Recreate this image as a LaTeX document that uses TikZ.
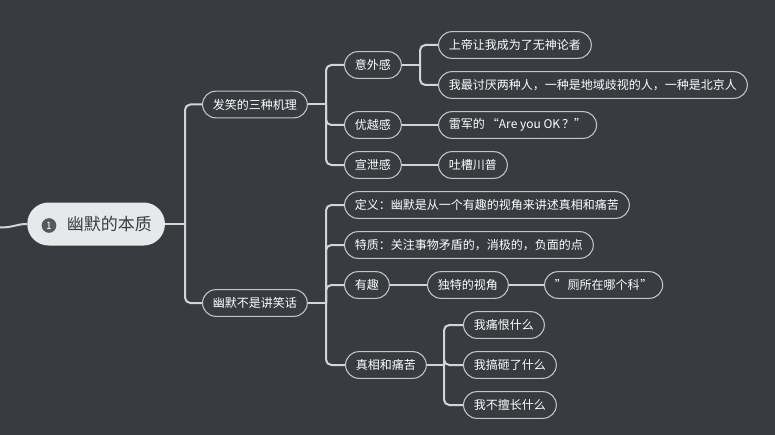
\documentclass[tikz,border=0pt]{standalone}
\usepackage{fontspec}
\setmainfont{Noto Sans CJK SC}
\definecolor{bgcol}{HTML}{383B40}
\definecolor{linecol}{HTML}{D4D5D6}
\definecolor{bordercol}{HTML}{C4C5C7}
\definecolor{rootfill}{HTML}{E7E8EA}
\definecolor{roottext}{HTML}{3A3D43}
\definecolor{iconfill}{HTML}{55585E}
\tikzset{
  topic/.style={draw=bordercol, line width=0.8pt, rounded corners=10pt,
    minimum height=20pt, inner xsep=7.8pt, inner ysep=0pt, text=white,
    font=\fontsize{9}{10}\selectfont, anchor=west},
  rootnode/.style={fill=rootfill, rounded corners=16pt, minimum height=32.25pt,
    inner xsep=9.75pt, inner ysep=0pt, text=roottext, anchor=west,
    font=\fontsize{12.75}{14}\selectfont},
  iconnode/.style={circle, fill=iconfill, minimum size=11pt, inner sep=0pt,
    text=white, font=\fontsize{7.5}{8}\selectfont},
  conn/.style={draw=linecol, line width=1.5pt, rounded corners=4pt},
}
\begin{document}
\begin{tikzpicture}[x=0.75pt,y=-0.75pt]
\fill[bgcol] (0,0) rectangle (775,435);
\useasboundingbox (0,0) rectangle (775,435);

% root
\node[rootnode] (root) at (27,224) {\hspace*{20pt}幽默的本质};
\node[iconnode] (rooticon) at (49,225.5) {1};
\coordinate (rootin) at (0,227.5);
\draw[conn] (rootin) .. controls (14,227.5) and (16,224) .. (root.west);

% level 1
\node[topic] (b1) at (202,104.5) {发笑的三种机理};
\node[topic] (b2) at (202,303) {幽默不是讲笑话};
\coordinate (j0) at (185,224);
\draw[conn] (root.east) -- (j0);
\draw[conn] (j0) |- (b1.west);
\draw[conn] (j0) |- (b2.west);

% branch 1
\node[topic] (a1) at (344,65) {意外感};
\node[topic] (a2) at (344,125) {优越感};
\node[topic] (a3) at (344,165) {宣泄感};
\coordinate (j1) at (326,104.5);
\draw[conn] (b1.east) -- (j1);
\draw[conn] (j1) |- (a1.west);
\draw[conn] (j1) |- (a2.west);
\draw[conn] (j1) |- (a3.west);

\node[topic] (a11) at (438,45) {上帝让我成为了无神论者};
\node[topic] (a12) at (438,85) {我最讨厌两种人，一种是地域歧视的人，一种是北京人};
\coordinate (j11) at (420,65);
\draw[conn] (a1.east) -- (j11);
\draw[conn] (j11) |- (a11.west);
\draw[conn] (j11) |- (a12.west);

\node[topic] (a21) at (438,125) {雷军的\hspace{1.5pt}“Are you OK\hspace{1.5pt}？”};
\draw[conn] (a2.east) -- (a21.west);
\node[topic] (a31) at (438,165) {吐槽川普};
\draw[conn] (a3.east) -- (a31.west);

% branch 2
\node[topic] (d1) at (344,205) {定义：幽默是从一个有趣的视角来讲述真相和痛苦};
\node[topic] (d2) at (344,245) {特质：关注事物矛盾的，消极的，负面的点};
\node[topic] (d3) at (344,285) {有趣};
\node[topic] (d4) at (345,365) {真相和痛苦};
\coordinate (j2) at (326,303);
\draw[conn] (b2.east) -- (j2);
\draw[conn] (j2) |- (d1.west);
\draw[conn] (j2) |- (d2.west);
\draw[conn] (j2) |- (d3.west);
\draw[conn] (j2) |- (d4.west);

\node[topic] (d31) at (427,285) {独特的视角};
\node[topic] (d32) at (544,285) {"\hspace{0.5pt}厕所在哪个科\hspace{0.5pt}"};
\draw[conn] (d3.east) -- (d31.west);
\draw[conn] (d31.east) -- (d32.west);

\node[topic] (d41) at (463,325) {我痛恨什么};
\node[topic] (d42) at (463,365) {我搞砸了什么};
\node[topic] (d43) at (463,405) {我不擅长什么};
\coordinate (j4) at (444,365);
\draw[conn] (d4.east) -- (j4);
\draw[conn] (j4) |- (d41.west);
\draw[conn] (j4) |- (d42.west);
\draw[conn] (j4) |- (d43.west);
\end{tikzpicture}
\end{document}
